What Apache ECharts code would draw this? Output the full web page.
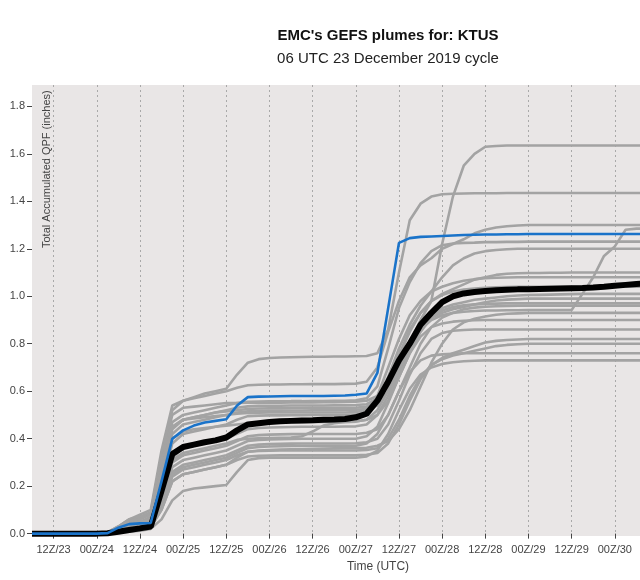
<!DOCTYPE html>
<html>
<head>
<meta charset="utf-8">
<script src="https://cdn.jsdelivr.net/npm/echarts@6/dist/echarts.min.js"></script>
<style>html,body{margin:0;padding:0;background:#fff}#c{width:640px;height:580px}</style>
</head>
<body>
<div id="c"></div>
<script>
// Forecast hour since 06 UTC 23 Dec 2019 (3-hourly)
const hours = [0,3,6,9,12,15,18,21,24,27,30,33,36,39,42,45,48,51,54,57,60,63,66,69,72,75,78,81,84,87,90,93,96,99,102,105,108,111,114,117,120,123,126,129,132,135,138,141,144,147,150,153,156,159,162,165,168,171];
const tickHours = [6,18,30,42,54,66,78,90,102,114,126,138,150,162];
const tickLabels = ['12Z/23','00Z/24','12Z/24','00Z/25','12Z/25','00Z/26','12Z/26','00Z/27','12Z/27','00Z/28','12Z/28','00Z/29','12Z/29','00Z/30'];
const yTicks = [0,0.2,0.4,0.6,0.8,1.0,1.2,1.4,1.6,1.8];

const p01 = [0,0,0,0,0,0,0, 0.005,0.03,0.06,0.07,0.08,0.32,0.50, 0.53,0.535,0.54,0.545,0.55,0.55,0.552,0.552, 0.552,0.552,0.553,0.553,0.553,0.554,0.554,0.555, 0.556,0.56,0.58,0.64,0.72,0.80,0.90,0.98, 1.22,1.42,1.55,1.60,1.63,1.633,1.635,1.635, 1.635,1.635,1.635,1.635,1.635,1.635,1.635,1.635,1.635,1.635,1.635,1.635];
const p02 = [0,0,0,0,0,0,0, 0.005,0.03,0.06,0.08,0.10,0.35,0.54, 0.56,0.575,0.59,0.60,0.61,0.67,0.72,0.735, 0.74,0.742,0.743,0.744,0.745,0.745,0.746,0.746, 0.747,0.748,0.76,0.86,1.10,1.32,1.39,1.42, 1.43,1.432,1.433,1.434,1.434,1.434,1.435,1.435, 1.435,1.435,1.435,1.435,1.435,1.435,1.435,1.435,1.435,1.435,1.435,1.435];
const p03 = [0,0,0,0,0,0,0, 0.005,0.02,0.05,0.07,0.09,0.33,0.52, 0.56,0.57,0.58,0.59,0.60,0.615,0.625,0.627, 0.628,0.628,0.629,0.629,0.63,0.63,0.63,0.631, 0.632,0.64,0.70,0.85,0.98,1.08,1.13,1.16, 1.20,1.22,1.24,1.265,1.28,1.29,1.295,1.298, 1.30,1.30,1.30,1.30,1.30,1.30,1.30,1.30,1.30,1.30,1.30,1.30];
const p04 = [0,0,0,0,0,0,0, 0.003,0.015,0.03,0.04,0.05,0.22,0.42, 0.46,0.47,0.48,0.49,0.50,0.51,0.515,0.517, 0.518,0.518,0.519,0.519,0.52,0.52,0.52,0.521, 0.522,0.525,0.54,0.60,0.70,0.80,0.86,0.90, 0.92,0.93,0.935,0.938,0.94,0.94,0.941,0.941, 0.942,0.942,0.942,0.942,0.942,1.01,1.08,1.17,1.21,1.28,1.285,1.285];
const p05 = [0,0,0,0,0,0,0, 0.005,0.025,0.05,0.06,0.08,0.30,0.47, 0.50,0.51,0.52,0.53,0.54,0.55,0.555,0.556, 0.557,0.557,0.558,0.558,0.559,0.559,0.56,0.56, 0.562,0.57,0.62,0.78,0.95,1.06,1.14,1.19, 1.215,1.222,1.225,1.226,1.228,1.228,1.229,1.229, 1.23,1.23,1.23,1.23,1.23,1.23,1.23,1.23,1.23,1.23,1.23,1.23];
const p06 = [0,0,0,0,0,0,0, 0.004,0.02,0.04,0.05,0.06,0.25,0.44, 0.48,0.49,0.50,0.51,0.52,0.53,0.536,0.538, 0.539,0.539,0.54,0.54,0.54,0.54,0.541,0.541, 0.542,0.545,0.57,0.66,0.78,0.88,0.96,1.02, 1.08,1.13,1.16,1.18,1.19,1.195,1.198,1.20, 1.20,1.20,1.20,1.20,1.20,1.20,1.20,1.20,1.20,1.20,1.20,1.20];
const p07 = [0,0,0,0,0,0,0, 0.003,0.015,0.03,0.04,0.05,0.20,0.38, 0.42,0.43,0.44,0.45,0.46,0.48,0.495,0.497, 0.498,0.498,0.499,0.499,0.50,0.50,0.50,0.50, 0.502,0.51,0.55,0.64,0.75,0.86,0.93,0.98, 1.01,1.03,1.05,1.07,1.08,1.09,1.095,1.097, 1.098,1.098,1.099,1.099,1.10,1.10,1.10,1.10,1.10,1.10,1.10,1.10];
const p08 = [0,0,0,0,0,0,0, 0.004,0.02,0.04,0.05,0.07,0.27,0.45, 0.48,0.485,0.49,0.495,0.50,0.505,0.508,0.509, 0.51,0.51,0.51,0.51,0.51,0.51,0.51,0.51, 0.512,0.52,0.58,0.70,0.82,0.92,0.98,1.02, 1.04,1.055,1.065,1.072,1.076,1.078,1.079,1.08, 1.08,1.08,1.08,1.08,1.08,1.08,1.08,1.08,1.08,1.08,1.08,1.08];
const p09 = [0,0,0,0,0,0,0, 0.002,0.01,0.02,0.03,0.04,0.16,0.32, 0.36,0.37,0.38,0.39,0.40,0.42,0.44,0.445, 0.447,0.448,0.449,0.45,0.45,0.45,0.45,0.451, 0.452,0.46,0.50,0.58,0.68,0.78,0.86,0.92, 0.95,0.965,0.975,0.985,0.99,0.995,1.0,1.003, 1.005,1.006,1.007,1.008,1.009,1.01,1.01,1.01,1.01,1.01,1.01,1.01];
const p10 = [0,0,0,0,0,0,0, 0.003,0.015,0.03,0.04,0.05,0.22,0.40, 0.43,0.44,0.445,0.45,0.455,0.46,0.465,0.467, 0.468,0.468,0.469,0.469,0.47,0.47,0.47,0.47, 0.472,0.48,0.52,0.60,0.71,0.80,0.87,0.91, 0.93,0.945,0.955,0.965,0.975,0.982,0.986,0.988, 0.99,0.99,0.99,0.99,0.99,0.99,0.99,0.99,0.99,0.99,0.99,0.99];
const p11 = [0,0,0,0,0,0,0, 0.002,0.01,0.02,0.03,0.04,0.15,0.30, 0.33,0.34,0.35,0.36,0.37,0.39,0.41,0.415, 0.417,0.418,0.419,0.42,0.42,0.42,0.42,0.42, 0.42,0.425,0.44,0.50,0.60,0.70,0.80,0.87, 0.91,0.93,0.945,0.952,0.956,0.958,0.959,0.96, 0.96,0.96,0.96,0.96,0.96,0.96,0.96,0.96,0.96,0.96,0.96,0.96];
const p12 = [0,0,0,0,0,0,0, 0.002,0.01,0.02,0.03,0.035,0.14,0.28, 0.31,0.32,0.33,0.34,0.35,0.37,0.39,0.395, 0.397,0.398,0.399,0.40,0.40,0.40,0.40,0.40, 0.40,0.41,0.45,0.55,0.66,0.76,0.83,0.87, 0.885,0.893,0.897,0.899,0.90,0.90,0.90,0.90, 0.90,0.90,0.90,0.90,0.90,0.90,0.90,0.90,0.90,0.90,0.90,0.90];
const p13 = [0,0,0,0,0,0,0, 0.002,0.01,0.015,0.02,0.03,0.12,0.26, 0.29,0.30,0.31,0.32,0.33,0.35,0.37,0.375, 0.377,0.378,0.379,0.38,0.38,0.38,0.38,0.38, 0.381,0.385,0.40,0.46,0.56,0.67,0.76,0.82, 0.845,0.855,0.858,0.86,0.86,0.86,0.86,0.86, 0.86,0.86,0.86,0.86,0.86,0.86,0.86,0.86,0.86,0.86,0.86,0.86];
const p14 = [0,0,0,0,0,0,0, 0.001,0.005,0.01,0.02,0.03,0.10,0.22, 0.25,0.26,0.27,0.28,0.29,0.31,0.325,0.328, 0.329,0.33,0.33,0.33,0.33,0.33,0.33,0.33, 0.33,0.332,0.34,0.38,0.46,0.56,0.65,0.71, 0.74,0.76,0.775,0.79,0.805,0.812,0.816,0.818, 0.82,0.82,0.82,0.82,0.82,0.82,0.82,0.82,0.82,0.82,0.82,0.82];
const p15 = [0,0,0,0,0,0,0, 0.001,0.005,0.01,0.02,0.03,0.11,0.24, 0.27,0.28,0.29,0.30,0.31,0.33,0.345,0.348, 0.349,0.35,0.35,0.35,0.35,0.35,0.35,0.35, 0.35,0.352,0.36,0.40,0.48,0.58,0.66,0.71, 0.735,0.75,0.76,0.77,0.78,0.79,0.795,0.798, 0.80,0.80,0.80,0.80,0.80,0.80,0.80,0.80,0.80,0.80,0.80,0.80];
const p16 = [0,0,0,0,0,0,0, 0.002,0.008,0.015,0.025,0.03,0.12,0.25, 0.28,0.29,0.30,0.31,0.32,0.34,0.36,0.365, 0.367,0.368,0.369,0.37,0.37,0.37,0.37,0.37, 0.37,0.38,0.42,0.50,0.60,0.68,0.73,0.75, 0.755,0.758,0.76,0.76,0.76,0.76,0.76,0.76, 0.76,0.76,0.76,0.76,0.76,0.76,0.76,0.76,0.76,0.76,0.76,0.76];
const p17 = [0,0,0,0,0,0,0, 0.001,0.004,0.008,0.012,0.02,0.06,0.14, 0.18,0.19,0.195,0.20,0.205,0.26,0.31,0.318, 0.32,0.32,0.32,0.32,0.32,0.32,0.32,0.32, 0.32,0.325,0.35,0.42,0.52,0.61,0.67,0.70, 0.715,0.722,0.726,0.728,0.73,0.73,0.73,0.73, 0.73,0.73,0.73,0.73,0.73,0.73,0.73,0.73,0.73,0.73,0.73,0.73];
const p18 = [0,0,0,0,0,0,0, 0.004,0.02,0.04,0.05,0.06,0.26,0.45, 0.48,0.49,0.50,0.51,0.515,0.52,0.525,0.527, 0.528,0.528,0.529,0.529,0.53,0.53,0.53,0.53, 0.53,0.535,0.56,0.64,0.75,0.85,0.93,0.98, 1.005,1.02,1.028,1.033,1.036,1.038,1.039,1.04, 1.04,1.04,1.04,1.04,1.04,1.04,1.04,1.04,1.04,1.04,1.04,1.04];
const p19 = [0,0,0,0,0,0,0, 0.003,0.015,0.03,0.035,0.04,0.17,0.31, 0.34,0.35,0.36,0.37,0.38,0.395,0.40,0.402, 0.403,0.404,0.405,0.41,0.43,0.455,0.465,0.47, 0.472,0.48,0.50,0.56,0.66,0.76,0.85,0.91, 0.94,0.955,0.962,0.966,0.968,0.969,0.97,0.97, 0.97,0.97,0.97,0.97,0.97,0.97,0.97,0.97,0.97,0.97,0.97,0.97];
const p20 = [0,0,0,0,0,0,0, 0.001,0.006,0.012,0.02,0.025,0.10,0.22, 0.25,0.26,0.27,0.28,0.29,0.32,0.345,0.35, 0.352,0.354,0.355,0.356,0.357,0.358,0.359,0.36, 0.36,0.362,0.37,0.39,0.44,0.52,0.62,0.72, 0.80,0.86,0.89,0.905,0.915,0.922,0.926,0.928, 0.93,0.93,0.93,0.93,0.93,0.93,0.93,0.93,0.93,0.93,0.93,0.93];
const members = [p01,p02,p03,p04,p05,p06,p07,p08,p09,p10,p11,p12,p13,p14,p15,p16,p17,p18,p19,p20];

const control = [0,0,0,0,0,0,0, 0.002,0.025,0.04,0.043,0.045,0.22,0.40, 0.435,0.455,0.468,0.475,0.482,0.54,0.575,0.577, 0.578,0.579,0.58,0.58,0.58,0.58,0.581,0.582, 0.585,0.59,0.677,0.95,1.225,1.245,1.25,1.252, 1.254,1.256,1.258,1.259,1.26,1.26,1.261,1.261, 1.262,1.262,1.262,1.262,1.262,1.262,1.262,1.262,1.262,1.262,1.262,1.262];
const ensMean = [0,0,0,0,0,0,0, 0.002,0.008,0.015,0.022,0.03,0.18,0.335, 0.365,0.375,0.385,0.393,0.405,0.435,0.46,0.465, 0.47,0.473,0.475,0.477,0.478,0.48,0.481,0.483, 0.49,0.505,0.56,0.64,0.73,0.80,0.88,0.93, 0.975,1.0,1.012,1.018,1.022,1.025,1.027,1.029, 1.03,1.031,1.032,1.033,1.034,1.035,1.037,1.04,1.044,1.048,1.052,1.055];

const FONT = '"Liberation Sans", Arial, sans-serif';
const pairs = arr => hours.map((h, i) => [h, arr[i]]);

const series = members.map((m, k) => ({
  name: 'p' + (k + 1), type: 'line', data: pairs(m), symbol: 'none', silent: true,
  lineStyle: { color: '#a3a3a3', width: 2.6 }, z: 2
}));
series.push({ name: 'mean', type: 'line', data: pairs(ensMean), symbol: 'none', silent: true,
  lineStyle: { color: '#000000', width: 6 }, z: 3 });
series.push({ name: 'control', type: 'line', data: pairs(control), symbol: 'none', silent: true,
  lineStyle: { color: '#1a73c9', width: 2.6 }, z: 4 });

const chart = echarts.init(document.getElementById('c'), null, { renderer: 'canvas' });
chart.setOption({
  animation: false,
  backgroundColor: '#ffffff',
  textStyle: { fontFamily: FONT },
  title: [
    { text: "EMC's GEFS plumes for: KTUS", left: 383, top: 23, textAlign: 'center',
      textStyle: { fontFamily: FONT, fontSize: 15, fontWeight: 'bold', color: '#111' } },
    { text: '06 UTC 23 December 2019 cycle', left: 383, top: 46, textAlign: 'center',
      textStyle: { fontFamily: FONT, fontSize: 15, fontWeight: 'normal', color: '#222' } }
  ],
  grid: { left: 32, right: 0, top: 85, bottom: 44, show: true, backgroundColor: '#e9e6e6', borderWidth: 0 },
  xAxis: {
    type: 'value', min: 0, max: 169,
    axisLine: { show: false },
    axisTick: { show: true, length: 5, customValues: tickHours, lineStyle: { color: '#444' } },
    axisLabel: { customValues: tickHours, color: '#444', fontSize: 11, margin: 8, fontFamily: FONT,
      formatter: v => tickLabels[tickHours.indexOf(v)] },
    splitLine: { show: true, lineStyle: { color: '#a9a9a9', width: 1, type: [2, 3] } }
  },
  yAxis: {
    type: 'value', min: -0.01, max: 1.89,
    axisLine: { show: false },
    axisTick: { show: true, length: 5, customValues: yTicks, lineStyle: { color: '#444' } },
    axisLabel: { customValues: yTicks, color: '#444', fontSize: 11, margin: 7, fontFamily: FONT,
      formatter: v => v.toFixed(1) },
    splitLine: { show: false }
  },
  graphic: [
    { type: 'text', x: 47, y: 248, rotation: Math.PI / 2, z: 10, silent: true,
      style: { text: 'Total Accumulated QPF (inches)', fill: '#444', fontSize: 11, fontFamily: FONT,
        textAlign: 'left', textVerticalAlign: 'middle' } },
    { type: 'text', x: 378, y: 567, z: 10, silent: true,
      style: { text: 'Time (UTC)', fill: '#444', fontSize: 12, fontFamily: FONT,
        textAlign: 'center', textVerticalAlign: 'middle' } }
  ],
  series: series
});
</script>
</body>
</html>
